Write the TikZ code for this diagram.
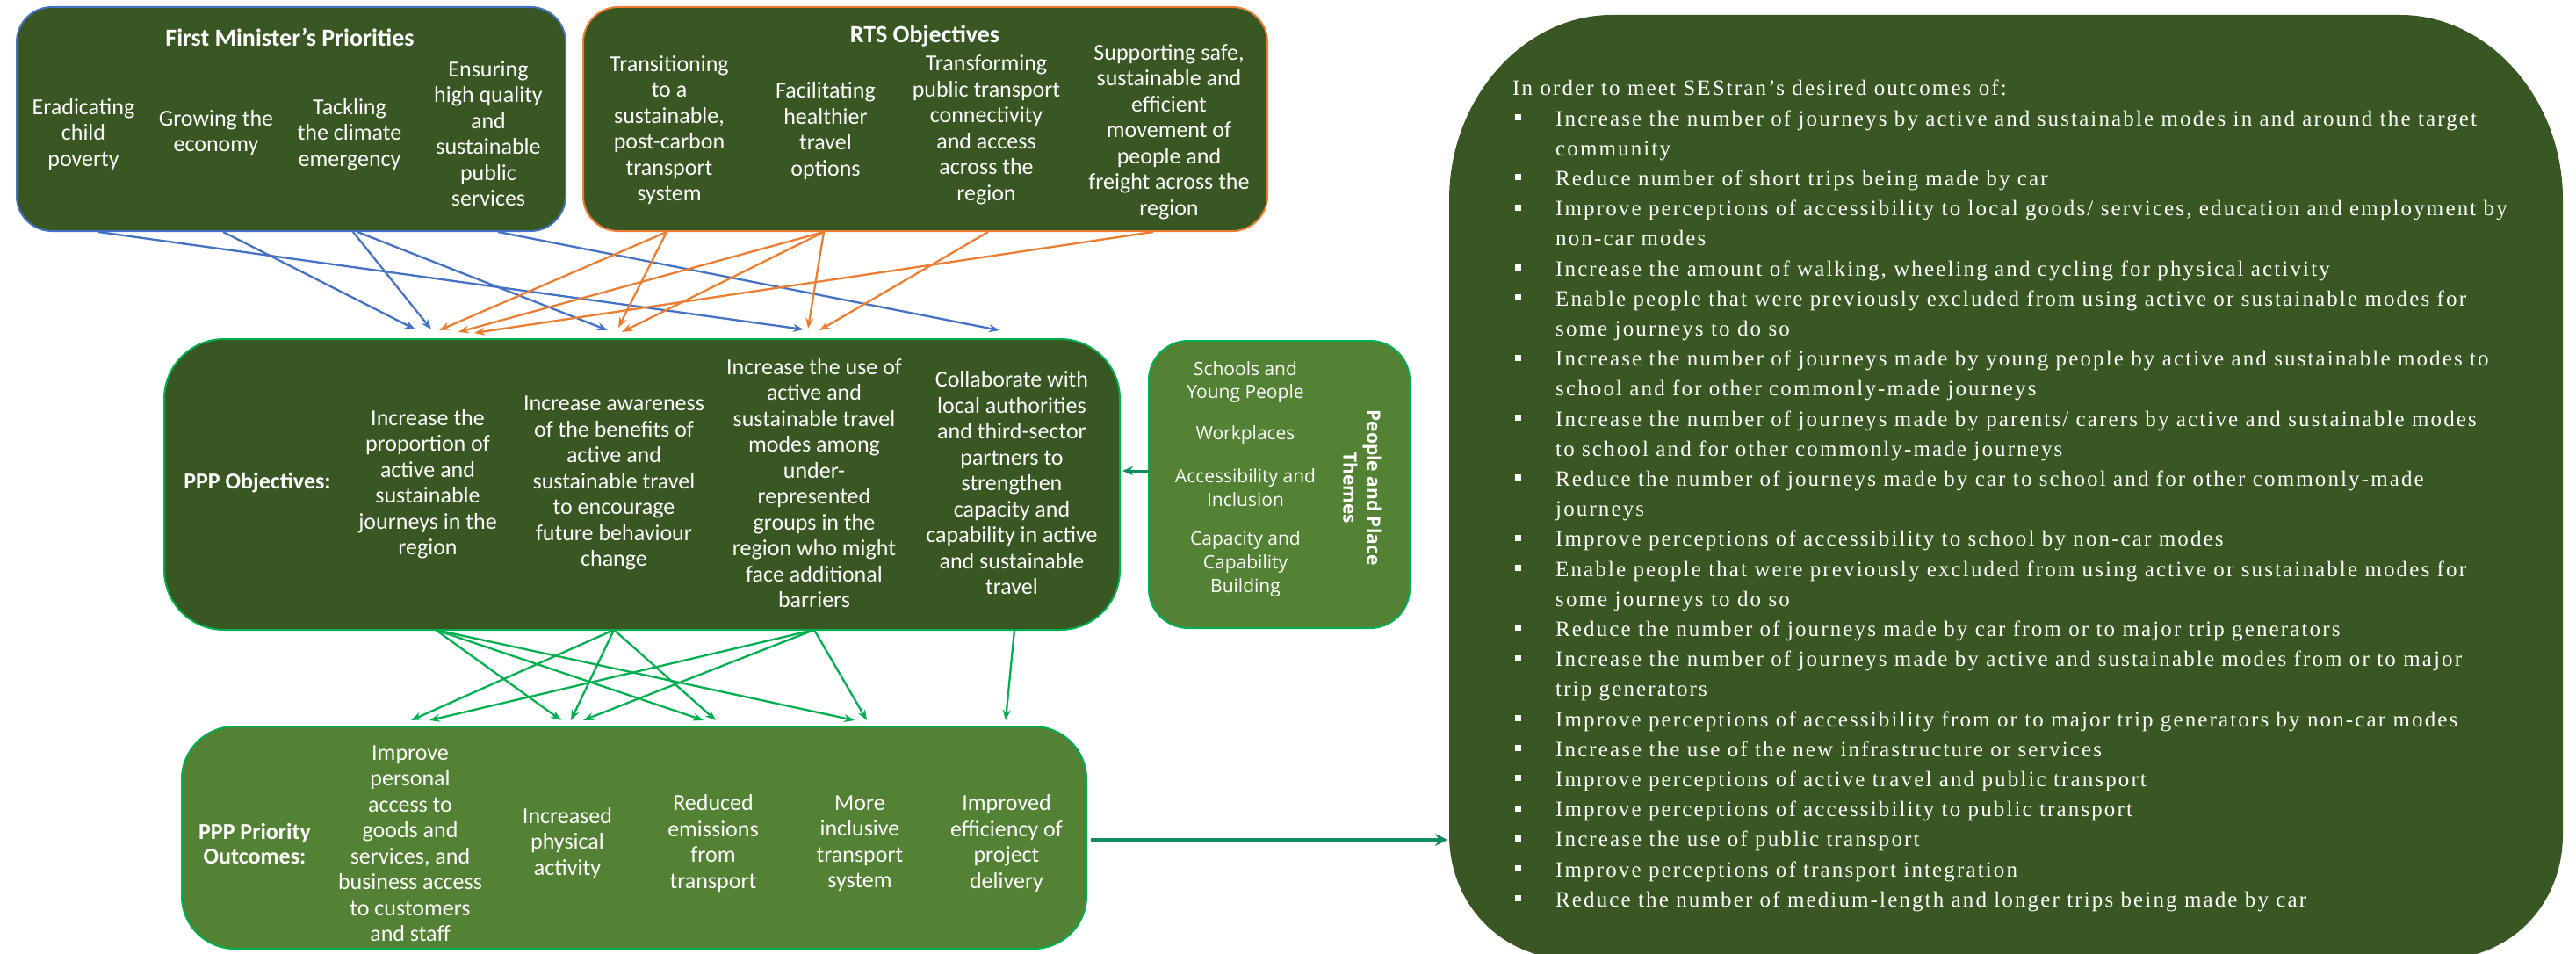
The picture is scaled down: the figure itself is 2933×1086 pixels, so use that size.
\documentclass[tikz,border=0pt]{standalone}
\usepackage{fontspec}
\setmainfont{Carlito}
\newfontfamily\osf{Open Sans}
\newfontfamily\rbf[LetterSpace=8.5]{Liberation Serif}
\usetikzlibrary{arrows.meta}
\definecolor{dkg}{HTML}{385723}
\definecolor{mdg}{HTML}{548235}
\definecolor{brg}{HTML}{00B050}
\definecolor{fmb}{HTML}{4472C4}
\definecolor{rto}{HTML}{ED7D31}
\definecolor{tealarr}{HTML}{108C5F}
\newcommand{\rbbul}{\makebox[49pt][l]{\hspace{3pt}\rule[6pt]{7pt}{7pt}}}
\newcommand{\rbind}{\hspace*{49pt}}
\tikzset{
  bigbox/.style={draw, line width=2pt, inner sep=0pt},
  itm/.style={text=white, align=center, inner sep=0pt, font=\fontsize{26}{29.5}\selectfont},
  ttl/.style={text=white, align=center, inner sep=0pt, font=\fontsize{28}{32}\selectfont\bfseries},
  lbl/.style={text=white, align=center, inner sep=0pt, font=\fontsize{26}{28}\selectfont\bfseries},
  thm/.style={text=white, align=center, inner sep=0pt, font=\osf\fontsize{21}{26.7}\selectfont},
  tip/.style={-{Stealth[length=12pt,width=9pt]}},
  barr/.style={draw=fmb, line width=2.3pt, tip},
  oarr/.style={draw=rto, line width=2.3pt, tip},
  garr/.style={draw=brg, line width=2.3pt, tip},
}
\begin{document}
\begin{tikzpicture}[x=1pt,y=-1pt]
\useasboundingbox (0,0) rectangle (2933,1086);
% ---------- boxes
\node[bigbox, draw=fmb, fill=dkg, rounded corners=40pt, minimum width=625pt, minimum height=255pt] (fm) at (331.5,135.5) {};
\node[bigbox, draw=rto, fill=dkg, rounded corners=40pt, minimum width=779pt, minimum height=255pt] (rts) at (1053.5,135.5) {};
\node[bigbox, draw=brg, fill=dkg, rounded corners=68pt, minimum width=1088pt, minimum height=331pt] (ppp) at (731,551.5) {};
\node[bigbox, draw=brg, fill=mdg, rounded corners=45pt, minimum width=297pt, minimum height=327pt] (thmb) at (1456.5,551.5) {};
\node[bigbox, draw=brg, fill=mdg, rounded corners=60pt, minimum width=1030pt, minimum height=253pt] (out) at (722,953.5) {};
% right box
\fill[dkg] (1650,227) .. controls (1650,112) and (1735,17) .. (1835,17) -- (2733,17)
  .. controls (2833,17) and (2918,112) .. (2918,227) -- (2918,950)
  .. controls (2918,1030) and (2858,1092) .. (2778,1092) -- (1790,1092)
  .. controls (1710,1092) and (1650,1030) .. (1650,950) -- cycle;
% ---------- FM text
\node[ttl] (fmt) at (330,42) {First Minister’s Priorities};
\node[itm] (fm1) at (95,153) {Eradicating\\child\\poverty};
\node[itm] (fm2) at (246,151) {Growing the\\economy};
\node[itm] (fm3) at (398,153) {Tackling\\the climate\\emergency};
\node[itm] (fm4) at (556,152) {Ensuring\\high quality\\and\\sustainable\\public\\services};
% ---------- RTS text
\node[ttl] (rtst) at (1053,41) {RTS Objectives};
\node[itm] (rt1) at (762,148) {Transitioning\\to a\\sustainable,\\post-carbon\\transport\\system};
\node[itm] (rt2) at (940,149) {Facilitating\\healthier\\travel\\options};
\node[itm] (rt3) at (1123,148) {Transforming\\public transport\\connectivity\\and access\\across the\\region};
\node[itm] (rt4) at (1331,150) {Supporting safe,\\sustainable and\\efficient\\movement of\\people and\\freight across the\\region};
% ---------- PPP objectives
\node[lbl] (pppl) at (293,550) {PPP Objectives:};
\node[itm] (po1) at (487,551) {Increase the\\proportion of\\active and\\sustainable\\journeys in the\\region};
\node[itm] (po2) at (699,550) {Increase awareness\\of the benefits of\\active and\\sustainable travel\\to encourage\\future behaviour\\change};
\node[itm] (po3) at (927,550) {Increase the use of\\active and\\sustainable travel\\modes among\\under-\\represented\\groups in the\\region who might\\face additional\\barriers};
\node[itm] (po4) at (1152,550) {Collaborate with\\local authorities\\and third-sector\\partners to\\strengthen\\capacity and\\capability in active\\and sustainable\\travel};
% ---------- themes
\node[thm] (th1) at (1418,435) {Schools and\\Young People};
\node[thm] (th2) at (1418,495) {Workplaces};
\node[thm] (th3) at (1418,555) {Accessibility and\\Inclusion};
\node[thm] (th4) at (1418,642) {Capacity and\\Capability\\Building};
\node[thm, font=\osf\fontsize{21}{27}\selectfont\bfseries, rotate=-90] (tht) at (1551,555) {People and Place\\Themes};
% ---------- outcomes
\node[lbl] (outl) at (290,960) {PPP Priority\\Outcomes:};
\node[itm] (oc1) at (467,960) {Improve\\personal\\access to\\goods and\\services, and\\business access\\to customers\\and staff};
\node[itm] (oc2) at (646,960) {Increased\\physical\\activity};
\node[itm] (oc3) at (812,960) {Reduced\\emissions\\from\\transport};
\node[itm] (oc4) at (979,960) {More\\inclusive\\transport\\system};
\node[itm] (oc5) at (1146,960) {Improved\\efficiency of\\project\\delivery};
% ---------- right box text
\node[text=white, align=left, inner sep=0pt, anchor=north west, font=\rbf\fontsize{25}{34.2}\selectfont] (rbt) at (1722,91) {%
In order to meet SEStran’s desired outcomes of:\\
\rbbul Increase the number of journeys by active and sustainable modes in and around the target\\
\rbind community\\
\rbbul Reduce number of short trips being made by car\\
\rbbul Improve perceptions of accessibility to local goods/ services, education and employment by\\
\rbind non-car modes\\
\rbbul Increase the amount of walking, wheeling and cycling for physical activity\\
\rbbul Enable people that were previously excluded from using active or sustainable modes for\\
\rbind some journeys to do so\\
\rbbul Increase the number of journeys made by young people by active and sustainable modes to\\
\rbind school and for other commonly-made journeys\\
\rbbul Increase the number of journeys made by parents/ carers by active and sustainable modes\\
\rbind to school and for other commonly-made journeys\\
\rbbul Reduce the number of journeys made by car to school and for other commonly-made\\
\rbind journeys\\
\rbbul Improve perceptions of accessibility to school by non-car modes\\
\rbbul Enable people that were previously excluded from using active or sustainable modes for\\
\rbind some journeys to do so\\
\rbbul Reduce the number of journeys made by car from or to major trip generators\\
\rbbul Increase the number of journeys made by active and sustainable modes from or to major\\
\rbind trip generators\\
\rbbul Improve perceptions of accessibility from or to major trip generators by non-car modes\\
\rbbul Increase the use of the new infrastructure or services\\
\rbbul Improve perceptions of active travel and public transport\\
\rbbul Improve perceptions of accessibility to public transport\\
\rbbul Increase the use of public transport\\
\rbbul Improve perceptions of transport integration\\
\rbbul Reduce the number of medium-length and longer trips being made by car};
% ---------- connector end points
\coordinate (fmA) at (112,264);
\coordinate (fmB) at (254,264);
\coordinate (fmC) at (402,264);
\coordinate (fmC2) at (407,264);
\coordinate (fmD) at (567,264);
\coordinate (rtA) at (759,264);
\coordinate (rtB) at (938,264);
\coordinate (rtC) at (1125,264);
\coordinate (rtD) at (1313,264);
\coordinate (p1a) at (473,375);
\coordinate (p1b) at (491,375);
\coordinate (p1c) at (500,376);
\coordinate (p1d) at (522,378);
\coordinate (p1e) at (540,379);
\coordinate (p2a) at (692,376);
\coordinate (p2b) at (704,373);
\coordinate (p2c) at (708,378);
\coordinate (p3a) at (915,375);
\coordinate (p3b) at (920,374);
\coordinate (p3c) at (933,376);
\coordinate (p4a) at (1138,376);
\coordinate (q1) at (496,717);
\coordinate (q2) at (699,717);
\coordinate (q3) at (927,717);
\coordinate (q4) at (1155,717);
\coordinate (r1a) at (468,820);
\coordinate (r1b) at (489,820);
\coordinate (r2a) at (639,820);
\coordinate (r2b) at (650,820);
\coordinate (r2c) at (664,820);
\coordinate (r3a) at (801,820);
\coordinate (r3b) at (815,820);
\coordinate (r4a) at (973,820);
\coordinate (r4b) at (987,820);
\coordinate (r5) at (1145,820);
\coordinate (thL) at (1308,536);
\coordinate (ppR) at (1278,536);
\coordinate (ocR) at (1242,956);
\coordinate (rbL) at (1648,956);
% ---------- blue connectors
\draw[barr] (fmA) -- (p3a);
\draw[barr] (fmB) -- (p1a);
\draw[barr] (fmC) -- (p1b);
\draw[barr] (fmC2) -- (p2a);
\draw[barr] (fmD) -- (p4a);
% ---------- orange connectors
\draw[oarr] (rtA) -- (p1c);
\draw[oarr] (rtA) -- (p2b);
\draw[oarr] (rtB) -- (p1d);
\draw[oarr] (rtB) -- (p2c);
\draw[oarr] (rtB) -- (p3b);
\draw[oarr] (rtC) -- (p3c);
\draw[oarr] (rtD) -- (p1e);
% ---------- green connectors
\draw[garr] (q1) -- (r2a);
\draw[garr] (q1) -- (r3a);
\draw[garr] (q1) -- (r4a);
\draw[garr] (q2) -- (r1a);
\draw[garr] (q2) -- (r2b);
\draw[garr] (q2) -- (r3b);
\draw[garr] (q3) -- (r1b);
\draw[garr] (q3) -- (r2c);
\draw[garr] (q3) -- (r4b);
\draw[garr] (q4) -- (r5);
% ---------- teal connectors
\draw[draw=tealarr, line width=3pt, -{Stealth[length=12pt,width=10pt]}] (thL) -- (ppR);
\draw[draw=tealarr, line width=5pt, -{Stealth[length=14pt,width=14pt]}] (ocR) -- (rbL);
\end{tikzpicture}
\end{document}
